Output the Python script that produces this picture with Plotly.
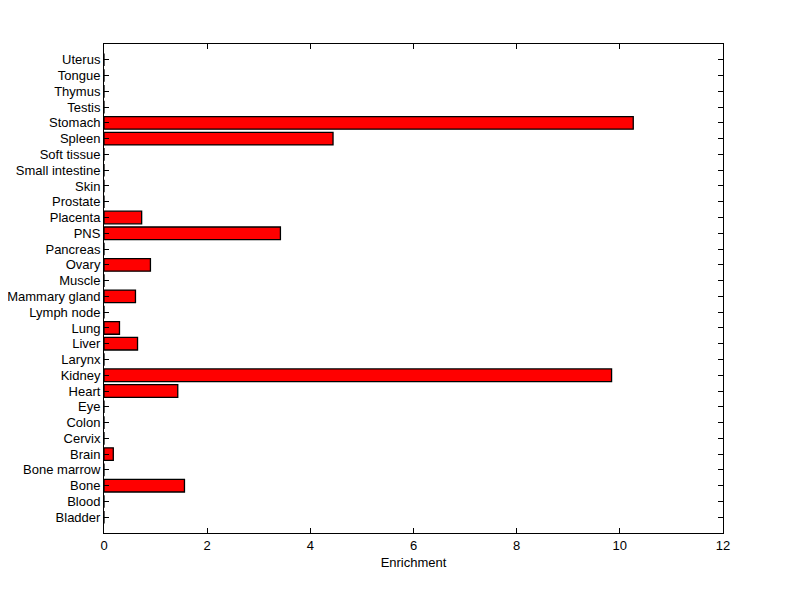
import plotly.graph_objects as go

tissues = ["Bladder", "Blood", "Bone", "Bone marrow", "Brain", "Cervix", "Colon", "Eye",
           "Heart", "Kidney", "Larynx", "Liver", "Lung", "Lymph node", "Mammary gland",
           "Muscle", "Ovary", "Pancreas", "PNS", "Placenta", "Prostate", "Skin",
           "Small intestine", "Soft tissue", "Spleen", "Stomach", "Testis", "Thymus",
           "Tongue", "Uterus"]
enrichment = [0, 0, 1.56, 0, 0.18, 0, 0, 0,
              1.43, 9.84, 0, 0.65, 0.30, 0, 0.61,
              0, 0.90, 0, 3.42, 0.73, 0, 0,
              0, 0, 4.44, 10.26, 0, 0,
              0, 0]
x_ticks = [0, 2, 4, 6, 8, 10, 12]

positions = list(range(1, len(tissues) + 1))

fig = go.Figure(go.Bar(
    x=enrichment, y=positions, orientation="h", width=0.8,
    marker=dict(color="#ff0000", line=dict(color="black", width=1.3)),
))

fig.update_layout(
    width=792, height=591,
    margin=dict(l=96, r=77, t=36, b=66, autoexpand=False),
    paper_bgcolor="white", plot_bgcolor="white",
    font=dict(family="Liberation Sans, Arial, sans-serif", size=13, color="black"),
    showlegend=False,
    bargap=0.2,
)
fig.update_xaxes(
    range=[0, 12], tickvals=x_ticks, ticktext=[str(v) for v in x_ticks],
    showgrid=False, zeroline=False, automargin=False,
    showline=True, linecolor="black", linewidth=1, mirror="ticks",
    ticks="inside", ticklen=5, tickcolor="black",
    title=dict(text="Enrichment", standoff=6, font=dict(size=13)),
)
fig.update_yaxes(
    range=[0, len(tissues) + 1], tickvals=positions, ticktext=tissues,
    showgrid=False, zeroline=False, automargin=False,
    showline=True, linecolor="black", linewidth=1, mirror="ticks",
    ticks="inside", ticklen=5, tickcolor="black",
)

fig.write_html("out.html")
